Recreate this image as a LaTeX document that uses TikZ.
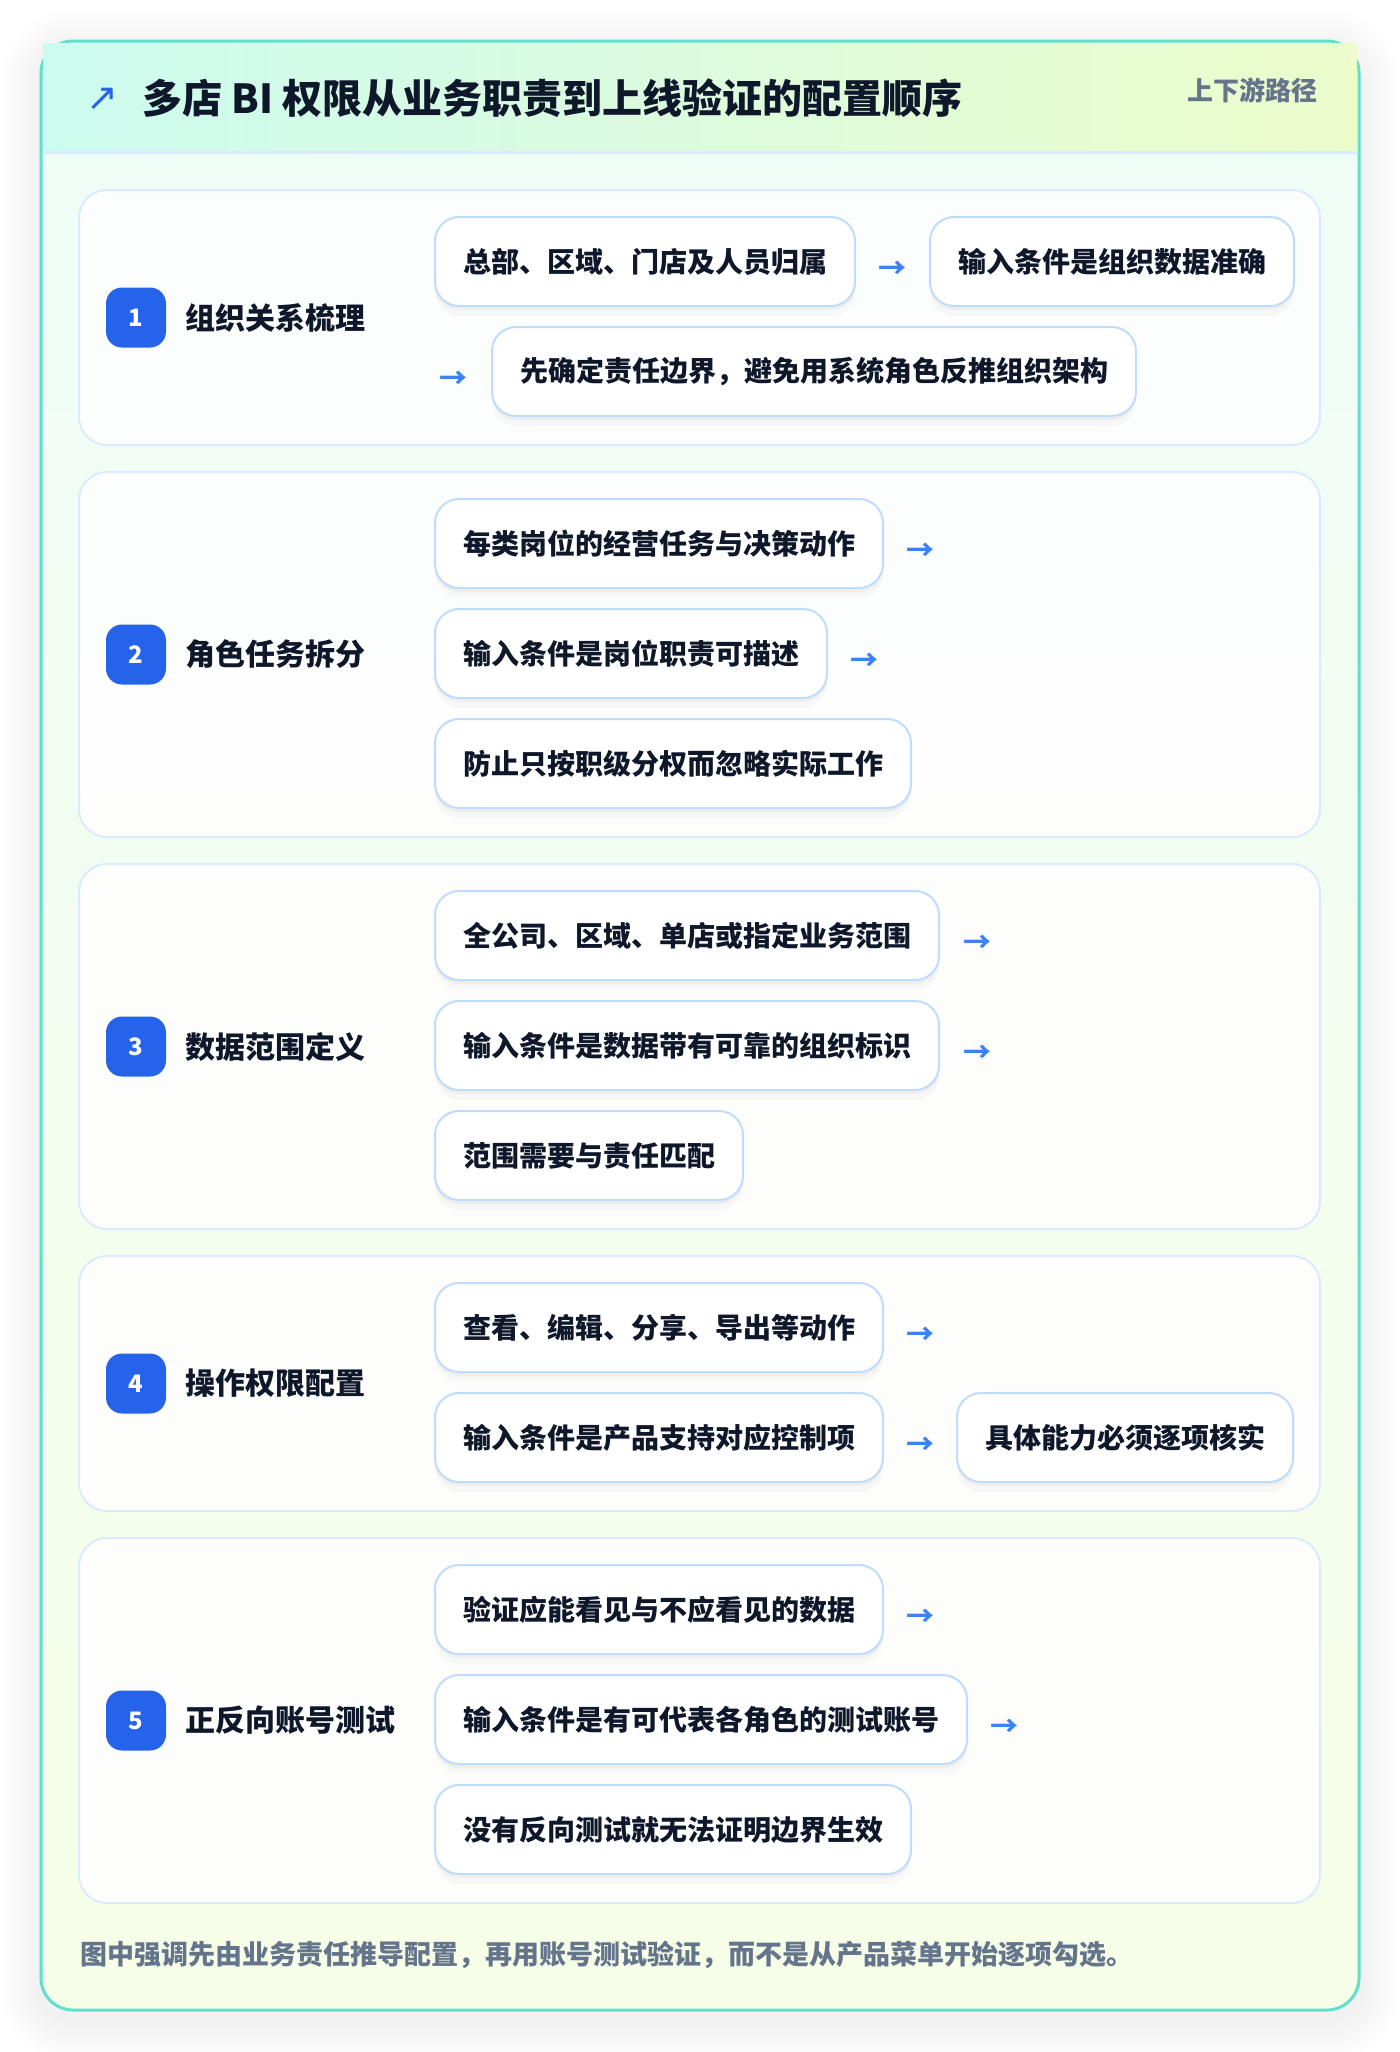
\documentclass[tikz,border=0pt]{standalone}
\usepackage{fontspec}
\setmainfont{Noto Sans CJK SC}
\newfontfamily\symfont{DejaVu Sans}
\usetikzlibrary{positioning,shadows}

\definecolor{ink}{HTML}{0F172A}
\definecolor{muted}{HTML}{64748B}
\definecolor{tealline}{HTML}{5EE0CC}
\definecolor{headleft}{HTML}{CCFBEF}
\definecolor{headright}{HTML}{ECFCCB}
\definecolor{bodytop}{HTML}{EFFDF8}
\definecolor{bodybottom}{HTML}{F7FEE7}
\definecolor{cardline}{HTML}{DBEAFE}
\definecolor{boxline}{HTML}{BFDBFE}
\definecolor{badgeblue}{HTML}{2563EB}
\definecolor{arrowblue}{HTML}{3B82F6}

\tikzset{
  stepcard/.style={draw=cardline, line width=1pt, fill=white, fill opacity=0.85, rounded corners=14pt},
  itembox/.style={draw=boxline, line width=1pt, fill=white, rounded corners=12pt,
    minimum height=44.5pt, inner xsep=14pt, inner ysep=0pt, anchor=west,
    font=\fontsize{14pt}{16pt}\selectfont\bfseries, text=ink,
    drop shadow={shadow xshift=0pt, shadow yshift=-2pt, opacity=0.035, fill=black},
    drop shadow={shadow xshift=0pt, shadow yshift=-5pt, opacity=0.025, fill=black}},
  badge/.style={fill=badgeblue, rounded corners=8pt, minimum size=30pt, inner sep=0pt,
    text=white, font=\fontsize{12pt}{12pt}\selectfont\bfseries},
  steplabel/.style={anchor=west, inner sep=0pt, text=ink, font=\fontsize{15pt}{18pt}\selectfont\bfseries},
  flow/.style={inner sep=0pt, yshift=-2pt, text=arrowblue, font=\fontsize{14pt}{14pt}\selectfont\bfseries}
}

\begin{document}
\begin{tikzpicture}[x=0.5pt, y=-0.5pt]
  \useasboundingbox (0,0) rectangle (1400,2052);
  \fill[white] (0,0) rectangle (1400,2052);

  % soft shadow round the card
  \foreach \d in {3,6,...,42}
    \fill[black, opacity=0.0045, rounded corners=16pt+\d*0.5pt]
      (41-\d,41-\d+10) rectangle (1359+\d,2010+\d+10);

  % outer card and header
  \shade[top color=bodytop, bottom color=bodybottom, rounded corners=16pt] (41,41) rectangle (1359,2010);
  \draw[tealline, line width=1.5pt, rounded corners=16pt] (41,41) rectangle (1359,2010);
  \shade[left color=headleft, right color=headright] (43,43) rectangle (1357,151);
  \draw[cardline, line width=1.5pt] (43,152) -- (1357,152);

  \node[text=badgeblue, inner sep=0pt, font=\symfont\fontsize{19pt}{19pt}\selectfont] (icon) at (102,99) {↗};
  \node[anchor=west, inner sep=0pt, text=ink, font=\fontsize{20pt}{24pt}\selectfont\bfseries] (title) at (142,98)
    {多店 BI 权限从业务职责到上线验证的配置顺序};
  \node[anchor=east, inner sep=0pt, text=muted, font=\fontsize{13pt}{15pt}\selectfont\bfseries] (tag) at (1318,90) {上下游路径};

  % step cards
  \draw[stepcard] (79,190) rectangle (1320,445);
  \draw[stepcard] (79,472) rectangle (1320,837);
  \draw[stepcard] (79,864) rectangle (1320,1229);
  \draw[stepcard] (79,1256) rectangle (1320,1511);
  \draw[stepcard] (79,1538) rectangle (1320,1903);

  % 1
  \node[badge] (b1) at (136,317.5) {1};
  \node[steplabel] (l1) at (185,317.5) {组织关系梳理};
  \node[itembox] (s1a) at (434,261.5) {总部、区域、门店及人员归属};
  \node[flow] (f1a) at (892,266) {→};
  \node[itembox] (s1b) at (929,261.5) {输入条件是组织数据准确};
  \node[flow] (f1b) at (453,376) {→};
  \node[itembox] (s1c) at (491,371.5) {先确定责任边界，避免用系统角色反推组织架构};

  % 2
  \node[badge] (b2) at (136,654.5) {2};
  \node[steplabel] (l2) at (185,654.5) {角色任务拆分};
  \node[itembox] (s2a) at (434,543.5) {每类岗位的经营任务与决策动作};
  \node[flow] (f2a) at (920,548) {→};
  \node[itembox] (s2b) at (434,653.5) {输入条件是岗位职责可描述};
  \node[flow] (f2b) at (864,658) {→};
  \node[itembox] (s2c) at (434,763.5) {防止只按职级分权而忽略实际工作};

  % 3
  \node[badge] (b3) at (136,1046.5) {3};
  \node[steplabel] (l3) at (185,1046.5) {数据范围定义};
  \node[itembox] (s3a) at (434,935.5) {全公司、区域、单店或指定业务范围};
  \node[flow] (f3a) at (977,940) {→};
  \node[itembox] (s3b) at (434,1045.5) {输入条件是数据带有可靠的组织标识};
  \node[flow] (f3b) at (977,1050) {→};
  \node[itembox] (s3c) at (434,1155.5) {范围需要与责任匹配};

  % 4
  \node[badge] (b4) at (136,1383.5) {4};
  \node[steplabel] (l4) at (185,1383.5) {操作权限配置};
  \node[itembox] (s4a) at (434,1327.5) {查看、编辑、分享、导出等动作};
  \node[flow] (f4a) at (920,1332) {→};
  \node[itembox] (s4b) at (434,1437.5) {输入条件是产品支持对应控制项};
  \node[flow] (f4b) at (920,1442) {→};
  \node[itembox] (s4c) at (956,1437.5) {具体能力必须逐项核实};

  % 5
  \node[badge] (b5) at (136,1720.5) {5};
  \node[steplabel] (l5) at (185,1720.5) {正反向账号测试};
  \node[itembox] (s5a) at (434,1609.5) {验证应能看见与不应看见的数据};
  \node[flow] (f5a) at (920,1614) {→};
  \node[itembox] (s5b) at (434,1719.5) {输入条件是有可代表各角色的测试账号};
  \node[flow] (f5b) at (1004,1724) {→};
  \node[itembox] (s5c) at (434,1829.5) {没有反向测试就无法证明边界生效};

  \node[anchor=west, inner sep=0pt, text=muted, font=\fontsize{13.5pt}{16pt}\selectfont\bfseries] (note) at (80,1955)
    {图中强调先由业务责任推导配置，再用账号测试验证，而不是从产品菜单开始逐项勾选。};
\end{tikzpicture}
\end{document}
